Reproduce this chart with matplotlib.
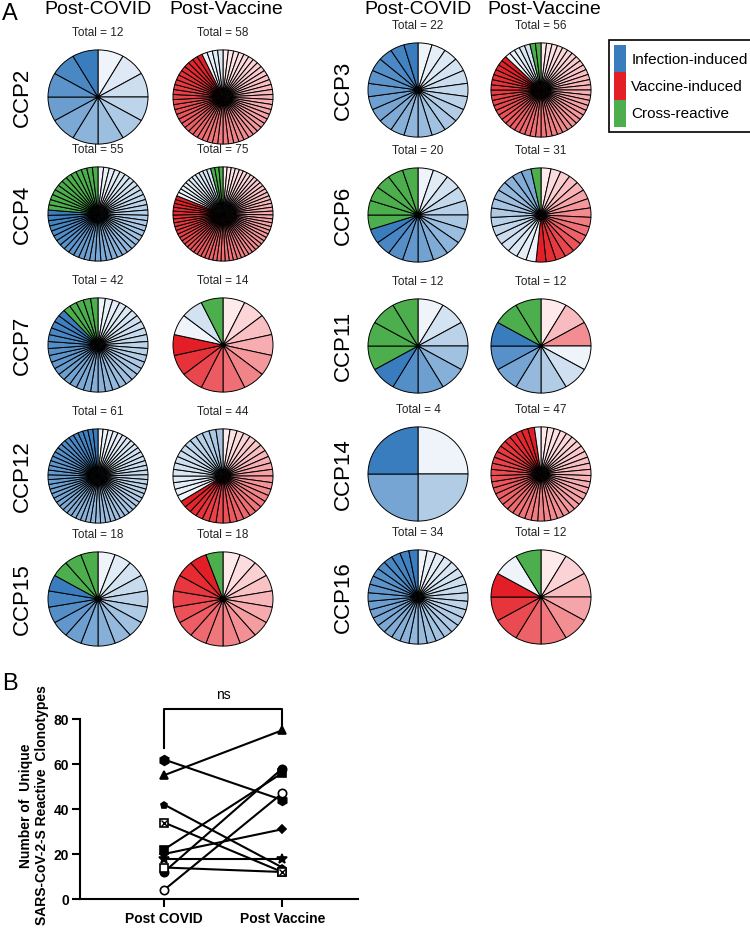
import matplotlib
matplotlib.use('Agg')
import matplotlib.pyplot as plt
from matplotlib.patches import Patch
from matplotlib.colors import to_rgb
import numpy as np

plt.rcParams['font.family'] = ['Liberation Sans', 'DejaVu Sans']

# panel A: clonotype counts per donor (left block then right block)
samples = ['CCP2', 'CCP4', 'CCP7', 'CCP12', 'CCP15',
           'CCP3', 'CCP6', 'CCP11', 'CCP14', 'CCP16']
covid_infection = [12, 42, 37, 61, 15, 22, 14, 8, 4, 34]
covid_cross = [0, 13, 5, 0, 3, 0, 6, 4, 0, 0]
vac_vaccine = [54, 61, 11, 29, 17, 49, 16, 3, 46, 10]
vac_infection = [4, 11, 2, 15, 0, 5, 14, 7, 1, 1]
vac_cross = [0, 3, 1, 0, 1, 2, 1, 2, 0, 1]
# how dark the shading gets inside each post-vaccine category
vac_blue_depth = [0.1, 0.15, 0.15, 0.4, 0.0, 0.15, 0.65, 1.0, 0.0, 0.0]
vac_red_depth = [1, 1, 1, 1, 1, 1, 1, 0.45, 1, 1]

legend_labels = ['Infection-induced', 'Vaccine-induced', 'Cross-reactive']

# panel B: totals as plotted
b_covid = [12, 55, 42, 62, 18, 22, 20, 14, 4, 34]
b_vaccine = [58, 75, 14, 44, 18, 56, 31, 12, 47, 12]
b_groups = ['Post COVID', 'Post Vaccine']

BLUE, BLUE_L = '#3a7dbf', '#eef4fa'
RED, RED_L = '#e41e26', '#fee9eb'
GREEN = '#4cae4c'

W, H = 750, 938
fig = plt.figure(figsize=(W / 100, H / 100), dpi=100)


def px_axes(cx, cy, w, h):
    return fig.add_axes([(cx - w / 2) / W, 1 - (cy + h / 2) / H, w / W, h / H])


def shades(dark, light, n, depth=1.0):
    d = np.array(to_rgb(dark))
    l = np.array(to_rgb(light))
    out = []
    for i in range(n):
        t = (i / (n - 1) if n > 1 else 0) * depth
        out.append(tuple(l + (d - l) * t))
    return out


def draw_pie(cx, cy, cols):
    ax = px_axes(cx, cy, 103, 97)
    ax.pie([1] * len(cols), colors=cols, startangle=90, counterclock=False,
           wedgeprops=dict(edgecolor='black', linewidth=0.7))
    ax.set_aspect('auto')
    ax.set_xlim(-1.03, 1.03)
    ax.set_ylim(-1.03, 1.03)
    ax.text(0, 1.36, 'Total = %d' % len(cols), ha='center', va='center',
            fontsize=8.5, color='#222222')


col_x = [(98, 223), (418, 541)]
row_y = [[97, 214, 345, 476, 599], [90, 215, 346, 474, 597]]
label_x = [22, 343]

for k, name in enumerate(samples):
    g, r = divmod(k, 5)
    cy = row_y[g][r]
    covid_cols = shades(BLUE, BLUE_L, covid_infection[k]) + [GREEN] * covid_cross[k]
    vac_cols = (shades(RED, RED_L, vac_vaccine[k], vac_red_depth[k])
                + shades(BLUE, BLUE_L, vac_infection[k], vac_blue_depth[k])
                + [GREEN] * vac_cross[k])
    draw_pie(col_x[g][0], cy, covid_cols)
    draw_pie(col_x[g][1], cy, vac_cols)
    fig.text(label_x[g] / W, 1 - cy / H, name, rotation=90, ha='center',
             va='center', fontsize=16)

for g in range(2):
    fig.text(col_x[g][0] / W, 1 - 9 / H, 'Post-COVID', ha='center', va='center', fontsize=14)
    fig.text((col_x[g][1] + 3) / W, 1 - 9 / H, 'Post-Vaccine', ha='center', va='center', fontsize=14)

fig.text(2 / W, 1 - 14 / H, 'A', ha='left', va='center', fontsize=17)

handles = [Patch(facecolor=c, edgecolor='none') for c in [BLUE, RED, GREEN]]
leg = fig.legend(handles, legend_labels, loc='upper left',
                 bbox_to_anchor=(609 / W, 1 - 40 / H), fontsize=11,
                 handlelength=0.75, handleheight=2.35, handletextpad=0.35,
                 labelspacing=0, borderpad=0.35, borderaxespad=0,
                 fancybox=False, framealpha=1)
leg.get_frame().set_edgecolor('black')
leg.get_frame().set_linewidth(1.2)

# panel B
axb = fig.add_axes([80 / W, 1 - 899 / H, (358 - 80) / W, (899 - 719) / H])
markers = [dict(marker='o', mfc='k', ms=6),
           dict(marker='^', mfc='k', ms=6),
           dict(marker='p', mfc='k', ms=5),
           dict(marker='h', mfc='k', ms=7),
           dict(marker='*', mfc='k', ms=7),
           dict(marker='s', mfc='k', ms=6),
           dict(marker='D', mfc='k', ms=4),
           dict(marker='s', mfc='white', ms=6),
           dict(marker='o', mfc='white', ms=6),
           dict(marker='s', mfc='white', ms=6)]
for i in range(len(samples)):
    axb.plot([0, 1], [b_covid[i], b_vaccine[i]], color='k', lw=1.5,
             mec='k', mew=1.2, clip_on=False, zorder=3, **markers[i])
axb.plot([0, 1], [b_covid[-1], b_vaccine[-1]], ls='none', marker='x',
         color='k', ms=4, mew=1, clip_on=False, zorder=4)

axb.set_xlim(-0.71, 1.64)
axb.set_ylim(0, 80)
axb.set_yticks([0, 20, 40, 60, 80])
axb.set_xticks([0, 1])
axb.set_xticklabels(b_groups)
for lab in axb.get_xticklabels() + axb.get_yticklabels():
    lab.set_fontweight('bold')
    lab.set_fontsize(10)
axb.tick_params(width=1.5, length=6)
axb.tick_params(axis='y', pad=2)
for s in ['top', 'right']:
    axb.spines[s].set_visible(False)
for s in ['left', 'bottom']:
    axb.spines[s].set_linewidth(1.5)
axb.set_ylabel('Number of  Unique\nSARS-CoV-2-S Reactive  Clonotypes',
               fontsize=10, fontweight='bold')
axb.yaxis.set_label_coords(-0.11, 0.52)

top = 84.5
axb.plot([0, 0, 1, 1], [max(b_covid) + 5, top, top, max(b_vaccine) + 1],
         color='k', lw=1.5, clip_on=False)
axb.text(0.5, top + 3, 'ns', ha='center', va='bottom', fontsize=10)

fig.text(2 / W, 1 - 684 / H, 'B', ha='left', va='center', fontsize=17)

fig.savefig('out.png', dpi=100)
